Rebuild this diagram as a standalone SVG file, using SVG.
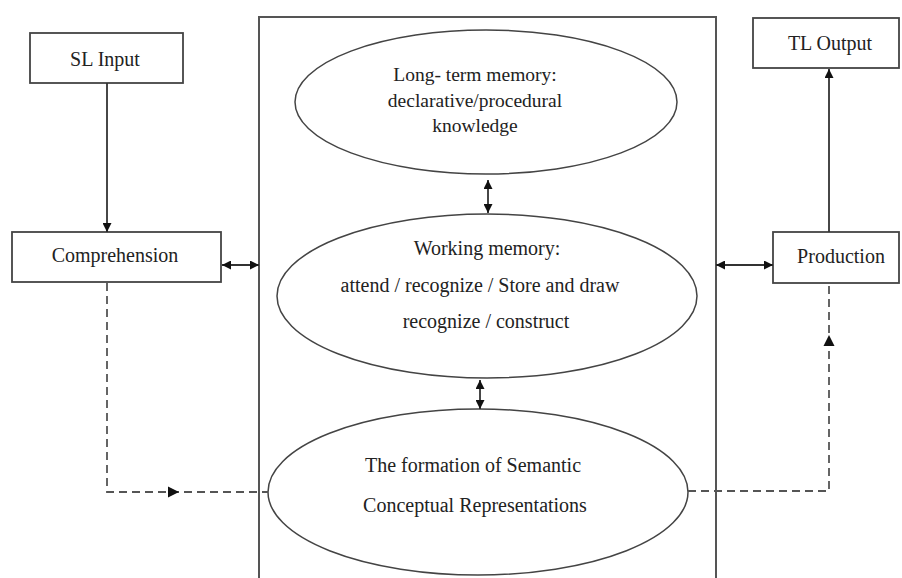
<svg xmlns="http://www.w3.org/2000/svg" width="902" height="578" viewBox="0 0 902 578">
<style>
.box{fill:#fff;stroke:#444;stroke-width:1.8}
.ell{fill:#fff;stroke:#444;stroke-width:1.5}
.frame{fill:none;stroke:#555;stroke-width:2}
.t{font-family:"Liberation Serif","Times New Roman",serif;font-size:20px;fill:#222;text-anchor:middle}
.ln{fill:none;stroke:#333;stroke-width:1.8}
.dash{fill:none;stroke:#555;stroke-width:1.8;stroke-dasharray:8 5}
</style>
<defs>
<marker id="ah" viewBox="0 0 10 10" refX="10" refY="5" markerWidth="10" markerHeight="9" markerUnits="userSpaceOnUse" orient="auto-start-reverse">
<path d="M0 0 L10 5 L0 10 Z" fill="#111"/>
</marker>
</defs>
<rect width="902" height="578" fill="#fff"/>
<g id="main-frame"><path class="frame" d="M259 578 V17 H716 V578"/></g>
<g id="sl-input"><rect class="box" x="30" y="33" width="153" height="50"/><text class="t" x="105" y="66">SL Input</text></g>
<g id="comprehension"><rect class="box" x="12" y="232" width="209" height="50"/><text class="t" x="115" y="262">Comprehension</text></g>
<g id="tl-output"><rect class="box" x="753" y="18" width="146" height="50"/><text class="t" x="830" y="50">TL Output</text></g>
<g id="production"><rect class="box" x="773" y="232" width="126" height="51"/><text class="t" x="841" y="263">Production</text></g>
<g id="long-term-memory"><ellipse class="ell" cx="486" cy="102" rx="191" ry="72"/>
<text class="t" style="font-size:19.5px" x="475" y="81">Long- term memory:</text>
<text class="t" style="font-size:19.5px" x="475" y="107">declarative/procedural</text>
<text class="t" style="font-size:19.5px" x="475" y="132">knowledge</text></g>
<g id="working-memory"><ellipse class="ell" cx="487" cy="296" rx="210" ry="82"/>
<text class="t" x="487" y="255">Working memory:</text>
<text class="t" x="480" y="292">attend / recognize / Store and draw</text>
<text class="t" x="486" y="328">recognize / construct</text></g>
<g id="semantic"><ellipse class="ell" cx="478" cy="492" rx="210" ry="83"/>
<text class="t" x="473" y="472">The formation of Semantic</text>
<text class="t" x="475" y="512">Conceptual Representations</text></g>
<g id="connectors">
<path class="ln" d="M107 83 V232" marker-end="url(#ah)"/>
<path class="ln" d="M222 265 H259" marker-start="url(#ah)" marker-end="url(#ah)"/>
<path class="ln" d="M716 265 H773" marker-start="url(#ah)" marker-end="url(#ah)"/>
<path class="ln" d="M829 232 V69" marker-end="url(#ah)"/>
<path class="ln" d="M488 180 V213" marker-start="url(#ah)" marker-end="url(#ah)"/>
<path class="ln" d="M480 380 V409" marker-start="url(#ah)" marker-end="url(#ah)"/>
<path class="dash" d="M107 283 V492 H268"/>
<path d="M168 486.5 L179 492 L168 497.5 Z" fill="#111"/>
<path class="dash" d="M688 491 H829 V283"/>
<path d="M823.5 346 L829 335 L834.5 346 Z" fill="#111"/>
</g>
</svg>
